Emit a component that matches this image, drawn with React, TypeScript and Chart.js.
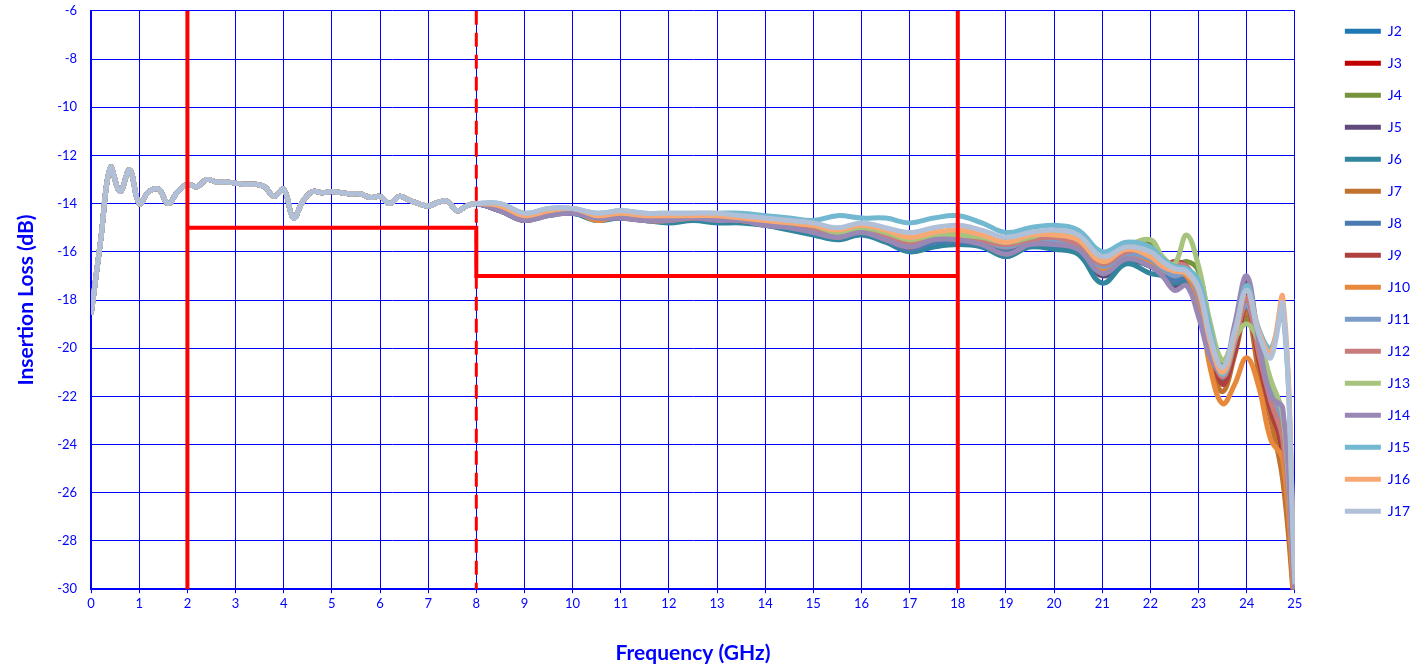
import { useEffect, useRef } from 'react';
import { Chart, registerables } from 'chart.js';

Chart.register(...registerables);

// 0 - 8 GHz, all ports track each other closely
const lowFreq = [0, 0.2, 0.4, 0.6, 0.8, 1, 1.2, 1.4, 1.6, 1.8, 2, 2.2, 2.4, 2.6, 2.8, 3, 3.2, 3.4, 3.6, 3.8, 4,
  4.2, 4.4, 4.6, 4.8, 5, 5.2, 5.4, 5.6, 5.8, 6, 6.2, 6.4, 6.6, 6.8, 7, 7.2, 7.4, 7.6, 7.8, 8];
const lowBand = [-18.6, -15.5, -12.5, -13.5, -12.6, -14.0, -13.5, -13.4, -14.0, -13.5, -13.2, -13.3, -13.0, -13.1,
  -13.1, -13.15, -13.2, -13.2, -13.3, -13.7, -13.4, -14.6, -13.9, -13.5, -13.55, -13.5, -13.55, -13.6, -13.6,
  -13.75, -13.7, -14.0, -13.7, -13.85, -14.0, -14.1, -13.95, -13.9, -14.3, -14.1, -14.0];

const highFreq = [8.5, 9, 9.5, 10, 10.5, 11, 11.5, 12, 12.5, 13, 13.5, 14, 14.5, 15, 15.5, 16, 16.5, 17, 17.5, 18,
  18.5, 19, 19.5, 20, 20.5, 21, 21.5, 22, 22.25, 22.5, 22.75, 23, 23.25, 23.5, 23.75, 24, 24.25, 24.5, 24.75, 25];

const J2 = [-14.2, -14.6, -14.4, -14.3, -14.6, -14.5, -14.6, -14.6, -14.6, -14.6, -14.7, -14.8, -14.9, -15.1, -15.3, -15.1, -15.4, -15.7, -15.4, -15.4, -15.6, -15.9, -15.6, -15.6, -15.8, -16.8, -16.2, -16.5, -16.9, -17.2, -17.0, -18.0, -20.0, -21.2, -20.0, -18.3, -20.5, -22.5, -24.0, -30.5];
const J3 = [-14.3, -14.6, -14.4, -14.3, -14.6, -14.5, -14.6, -14.7, -14.6, -14.7, -14.7, -14.8, -14.9, -15.1, -15.4, -15.2, -15.5, -15.9, -15.4, -15.5, -15.6, -15.9, -15.6, -15.5, -15.8, -16.9, -16.3, -16.6, -16.9, -17.1, -17.0, -17.9, -20.3, -21.4, -20.0, -17.9, -20.6, -22.8, -24.5, -31.0];
const J4 = [-14.1, -14.5, -14.3, -14.3, -14.5, -14.5, -14.6, -14.5, -14.5, -14.5, -14.6, -14.7, -14.8, -15.0, -15.2, -15.0, -15.3, -15.6, -15.4, -15.3, -15.4, -15.6, -15.4, -15.3, -15.6, -16.5, -15.9, -15.6, -16.3, -16.6, -16.4, -16.8, -19.2, -20.6, -19.6, -18.8, -19.8, -21.5, -23.0, -30.0];
const J5 = [-14.3, -14.7, -14.4, -14.4, -14.6, -14.6, -14.7, -14.7, -14.6, -14.7, -14.7, -14.9, -15.0, -15.2, -15.4, -15.2, -15.4, -15.8, -15.5, -15.5, -15.7, -16.2, -15.7, -15.8, -15.9, -17.0, -16.4, -16.6, -17.0, -17.4, -17.3, -18.6, -20.2, -21.0, -19.4, -17.2, -19.8, -22.2, -23.6, -30.5];
const J6 = [-14.3, -14.7, -14.5, -14.4, -14.7, -14.6, -14.7, -14.8, -14.7, -14.8, -14.8, -14.9, -15.1, -15.3, -15.5, -15.3, -15.6, -16.0, -15.8, -15.7, -15.8, -16.2, -15.8, -15.9, -16.1, -17.3, -16.5, -16.9, -17.0, -17.3, -17.2, -18.3, -20.2, -21.3, -20.0, -17.5, -20.6, -22.6, -24.2, -30.5];
const J7 = [-14.2, -14.6, -14.4, -14.3, -14.6, -14.5, -14.6, -14.6, -14.6, -14.6, -14.7, -14.8, -14.9, -15.1, -15.3, -15.1, -15.4, -15.7, -15.4, -15.4, -15.6, -15.9, -15.6, -15.6, -15.8, -16.8, -16.2, -16.5, -16.9, -17.2, -17.0, -18.2, -20.6, -21.8, -20.3, -18.5, -21.0, -23.0, -25.5, -31.0];
const J8 = [-14.3, -14.6, -14.4, -14.4, -14.6, -14.5, -14.7, -14.7, -14.6, -14.7, -14.7, -14.8, -15.0, -15.2, -15.4, -15.2, -15.5, -15.9, -15.6, -15.6, -15.7, -16.0, -15.7, -15.7, -15.9, -16.9, -16.3, -16.6, -16.9, -17.2, -17.1, -18.1, -20.1, -21.2, -19.8, -18.0, -20.3, -22.4, -24.0, -30.5];
const J9 = [-14.2, -14.7, -14.4, -14.3, -14.6, -14.4, -14.6, -14.6, -14.5, -14.6, -14.7, -14.8, -14.9, -15.0, -15.3, -15.1, -15.4, -15.8, -15.4, -15.3, -15.5, -15.8, -15.5, -15.5, -15.7, -16.8, -16.1, -16.3, -16.6, -16.4, -16.6, -17.6, -19.8, -21.5, -20.2, -18.2, -20.5, -22.6, -24.2, -30.5];
const J10 = [-14.2, -14.6, -14.4, -14.3, -14.7, -14.5, -14.7, -14.7, -14.6, -14.6, -14.7, -14.8, -14.9, -15.0, -15.4, -15.1, -15.3, -15.6, -15.3, -15.3, -15.5, -15.8, -15.5, -15.5, -15.8, -16.7, -16.2, -16.4, -16.8, -16.9, -17.0, -18.1, -20.9, -22.3, -21.5, -20.4, -21.6, -23.8, -24.6, -31.0];
const J11 = [-14.2, -14.5, -14.3, -14.3, -14.5, -14.5, -14.6, -14.6, -14.5, -14.6, -14.6, -14.7, -14.9, -15.0, -15.3, -15.1, -15.3, -15.6, -15.4, -15.3, -15.5, -15.8, -15.5, -15.5, -15.7, -16.6, -16.1, -16.3, -16.7, -17.0, -16.9, -17.8, -19.9, -21.0, -19.6, -18.2, -20.0, -21.8, -23.2, -30.0];
const J12 = [-14.2, -14.6, -14.4, -14.3, -14.6, -14.5, -14.6, -14.6, -14.5, -14.6, -14.7, -14.8, -14.9, -15.0, -15.3, -15.0, -15.3, -15.6, -15.3, -15.3, -15.5, -15.7, -15.5, -15.4, -15.7, -16.5, -16.0, -16.0, -16.5, -16.5, -16.6, -17.6, -19.9, -21.2, -19.8, -17.9, -20.2, -22.2, -23.8, -30.0];
const J13 = [-14.1, -14.5, -14.3, -14.3, -14.5, -14.4, -14.5, -14.5, -14.5, -14.5, -14.6, -14.7, -14.8, -14.9, -15.2, -15.0, -15.2, -15.5, -15.3, -15.3, -15.4, -15.6, -15.4, -15.2, -15.5, -16.4, -15.8, -15.5, -16.2, -16.5, -15.3, -16.6, -19.0, -20.5, -19.6, -19.0, -19.7, -21.3, -22.8, -30.0];
const J14 = [-14.3, -14.7, -14.5, -14.4, -14.6, -14.6, -14.7, -14.7, -14.6, -14.7, -14.7, -14.9, -15.0, -15.2, -15.4, -15.2, -15.5, -15.8, -15.5, -15.5, -15.7, -16.1, -15.7, -15.7, -15.9, -16.9, -16.3, -16.6, -17.0, -17.6, -17.4, -18.7, -20.4, -21.0, -19.0, -17.0, -19.7, -22.0, -22.5, -30.5];
const J15 = [-14.0, -14.4, -14.2, -14.2, -14.4, -14.3, -14.4, -14.4, -14.4, -14.4, -14.4, -14.5, -14.6, -14.7, -14.5, -14.6, -14.6, -14.8, -14.6, -14.5, -14.8, -15.2, -15.0, -14.9, -15.1, -16.0, -15.6, -15.8, -16.3, -16.6, -16.7, -17.2, -19.3, -21.1, -19.6, -17.4, -19.2, -20.0, -18.4, -29.5];
const J16 = [-14.1, -14.5, -14.3, -14.2, -14.5, -14.4, -14.5, -14.5, -14.5, -14.5, -14.6, -14.7, -14.8, -14.9, -15.1, -14.9, -15.1, -15.4, -15.2, -15.1, -15.3, -15.6, -15.3, -15.3, -15.5, -16.4, -15.9, -16.2, -16.6, -16.8, -16.9, -17.6, -19.8, -21.0, -19.5, -17.6, -19.3, -20.2, -17.9, -29.5];
const J17 = [-14.0, -14.4, -14.2, -14.2, -14.4, -14.3, -14.4, -14.4, -14.4, -14.4, -14.5, -14.6, -14.7, -14.8, -15.0, -14.8, -15.0, -15.2, -15.0, -14.9, -15.1, -15.4, -15.2, -15.1, -15.3, -16.2, -15.8, -16.0, -16.4, -16.7, -16.8, -17.5, -19.6, -20.8, -19.3, -17.6, -19.4, -20.4, -18.2, -29.8];

const portNames = ['J2', 'J3', 'J4', 'J5', 'J6', 'J7', 'J8', 'J9', 'J10', 'J11', 'J12', 'J13', 'J14', 'J15', 'J16', 'J17'];
const portData = [J2, J3, J4, J5, J6, J7, J8, J9, J10, J11, J12, J13, J14, J15, J16, J17];
const portColors = ['#1f77b4', '#c00000', '#77933c', '#604a7b', '#31859c', '#c0722f', '#4a7ab0', '#b04040',
  '#e8883a', '#7d9cc8', '#c87c7c', '#a6c47e', '#9a88b4', '#72b8d0', '#f8a872', '#b0c0d8'];

// limit mask (GHz, dB); null breaks the line
const maskX = [2, 2, null, 2, 8, 8, 18, null, 18, 18];
const maskY = [-30, -6, null, -15, -15, -17, -17, null, -30, -6];
const dashX = [8, 8];
const dashY = [-6, -30];

const BLUE = '#0000ff';

export default function App() {
  const canvasRef = useRef<HTMLCanvasElement>(null);

  useEffect(() => {
    if (!canvasRef.current) return;
    const toPts = (xs: (number | null)[], ys: (number | null)[]) =>
      xs.map((x, i) => ({ x: x as number, y: ys[i] as number }));

    const series = portNames.map((name, i) => ({
      label: name,
      data: [...toPts(lowFreq, lowBand), ...toPts(highFreq, portData[i])],
      borderColor: portColors[i],
      backgroundColor: portColors[i],
      borderWidth: 5,
      pointRadius: 0,
      tension: 0.4,
      order: portNames.length - i,
    }));

    const chart = new Chart(canvasRef.current, {
      type: 'line',
      data: {
        datasets: [
          ...series,
          { label: 'mask', data: toPts(maskX, maskY), borderColor: '#ff0000', borderWidth: 4, pointRadius: 0, tension: 0, spanGaps: false, order: -1 },
          { label: 'mask8', data: toPts(dashX, dashY), borderColor: '#ff0000', borderWidth: 3, borderDash: [14, 8], pointRadius: 0, order: -1 },
        ] as any,
      },
      options: {
        animation: false,
        responsive: true,
        maintainAspectRatio: false,
        layout: { padding: { top: 0, right: 0, bottom: 7, left: 10 } },
        plugins: {
          tooltip: { enabled: false },
          legend: {
            position: 'right',
            align: 'start',
            title: { display: true, text: ' ', font: { size: 1 }, padding: 8 },
            labels: {
              filter: (item) => (item.text || '').startsWith('J'),
              sort: (a, b) => (a.datasetIndex ?? 0) - (b.datasetIndex ?? 0),
              usePointStyle: true,
              pointStyle: 'line',
              pointStyleWidth: 36,
              boxHeight: 4,
              color: BLUE,
              font: { family: 'Lato', size: 14 },
              padding: 18,
            },
          },
        },
        scales: {
          x: {
            type: 'linear',
            min: 0,
            max: 25,
            ticks: { stepSize: 1, color: BLUE, font: { family: 'Lato', size: 13 } },
            grid: { color: BLUE, lineWidth: 1, tickLength: 4 },
            border: { color: BLUE, width: 2 },
            title: { display: true, text: 'Frequency (GHz)', color: BLUE, padding: { top: 26, bottom: 4 }, font: { family: 'Lato', size: 21, weight: 'bold' } },
          },
          y: {
            min: -30,
            max: -6,
            ticks: { stepSize: 2, color: BLUE, font: { family: 'Lato', size: 13 }, padding: 14 },
            grid: { color: BLUE, lineWidth: 1, tickLength: 0 },
            border: { color: BLUE, width: 2 },
            title: { display: true, text: 'Insertion Loss (dB)', color: BLUE, font: { family: 'Lato', size: 21, weight: 'bold' } },
          },
          gap: {
            type: 'linear',
            position: 'right',
            ticks: { display: false },
            grid: { display: false },
            border: { display: false },
            afterFit: (s: any) => { s.width = 32; },
          },
        },
      },
    });
    return () => chart.destroy();
  }, []);

  return (
    <div style={{ position: 'absolute', left: 0, top: -11, width: 1420, height: 688, background: '#fff' }}>
      <canvas ref={canvasRef} />
    </div>
  );
}
